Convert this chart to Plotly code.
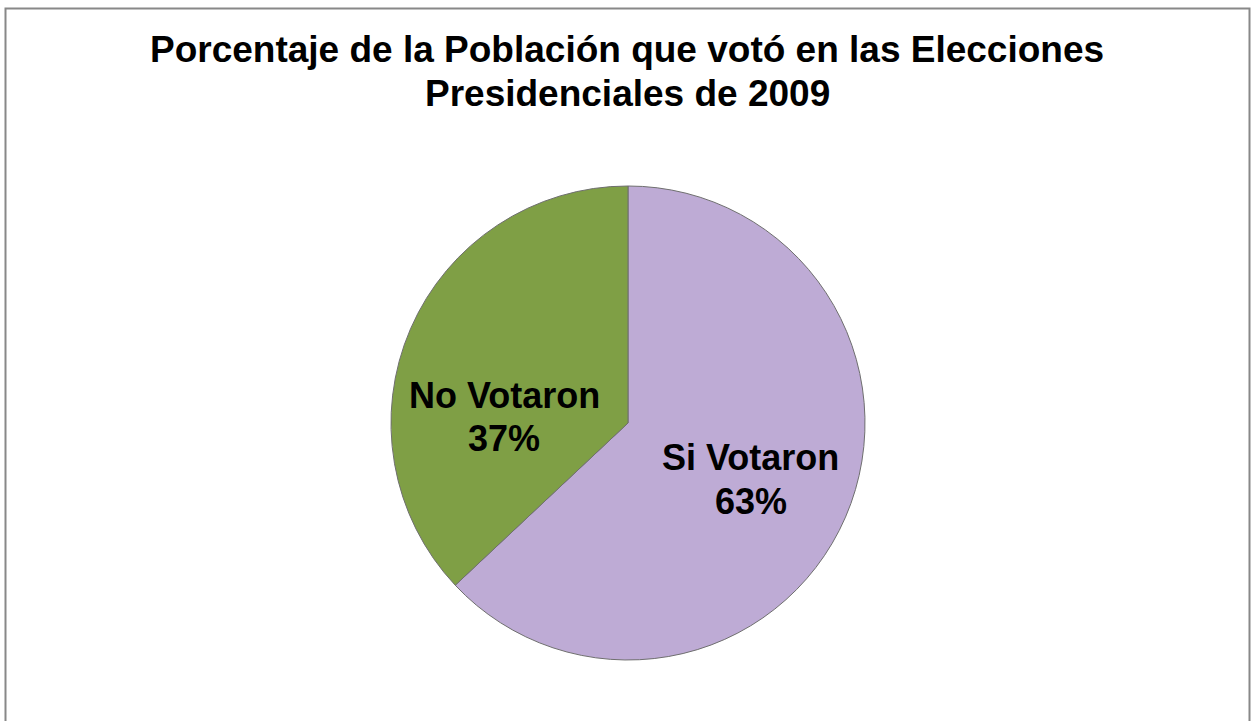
import plotly.graph_objects as go

labels = ["Si Votaron", "No Votaron"]
values = [63, 37]
colors = ["#BEABD5", "#7F9F45"]
title_lines = ["Porcentaje de la Población que votó en las Elecciones", "Presidenciales de 2009"]

W, H = 1256, 721
cx, cy, r = 628, 423, 237
FONT = "Liberation Sans, Arial, sans-serif"

fig = go.Figure()
fig.add_trace(go.Pie(
    labels=labels,
    values=values,
    sort=False,
    direction="clockwise",
    rotation=0,
    marker=dict(colors=colors, line=dict(color="#6f6f6f", width=1)),
    textinfo="none",
    hoverinfo="label+percent",
    showlegend=False,
    domain=dict(x=[(cx - r) / W, (cx + r) / W], y=[1 - (cy + r) / H, 1 - (cy - r) / H]),
))

# data labels (two lines each, placed separately for exact line spacing)
label_pos = {"No Votaron": (504, 395, 439), "Si Votaron": (751, 457, 501)}
for lab, val in zip(labels, values):
    px, py1, py2 = label_pos[lab]
    for txt, py in ((lab, py1), (f"{val}%", py2)):
        fig.add_annotation(
            x=px / W, y=1 - py / H, xref="paper", yref="paper",
            text=f"<b>{txt}</b>", showarrow=False,
            font=dict(family=FONT, size=36, color="#000000"),
            align="center", xanchor="center", yanchor="middle",
        )

for line, py in zip(title_lines, (50, 94)):
    fig.add_annotation(
        x=627 / W, y=1 - py / H, xref="paper", yref="paper",
        text=f"<b>{line}</b>", showarrow=False,
        font=dict(family=FONT, size=37, color="#000000"),
        align="center", xanchor="center", yanchor="middle",
    )

# chart-area border
fig.add_shape(type="rect", xref="paper", yref="paper",
              x0=5.5 / W, x1=1249.5 / W, y0=-0.05, y1=1 - 8.5 / H,
              line=dict(color="#888888", width=2), fillcolor="rgba(0,0,0,0)", layer="above")

fig.update_layout(
    width=W, height=H,
    margin=dict(l=0, r=0, t=0, b=0),
    paper_bgcolor="#FFFFFF",
    plot_bgcolor="#FFFFFF",
    font=dict(family=FONT),
)

fig.write_html("out.html")
